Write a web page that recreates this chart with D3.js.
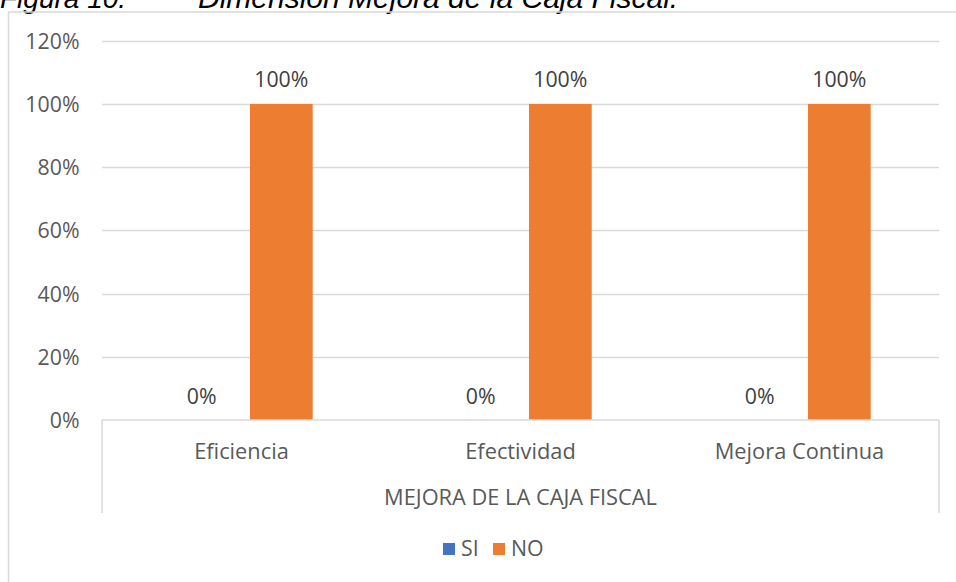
<!DOCTYPE html>
<html>
<head>
<meta charset="utf-8">
<script src="https://cdn.jsdelivr.net/npm/d3@7"></script>
<style>
  html, body { margin: 0; padding: 0; background: #fff; }
  svg { display: block; }
</style>
</head>
<body>
<svg id="chart" width="956" height="582"></svg>
<script>
const categories = ["Eficiencia", "Efectividad", "Mejora Continua"];
const seriesNames = ["SI", "NO"];
const siValues = [0, 0, 0];
const noValues = [1, 1, 1];
const yTicks = [0, 0.2, 0.4, 0.6, 0.8, 1.0, 1.2];
const axisTitle = "MEJORA DE LA CAJA FISCAL";
const titleNum = "Figura 10.";
const titleText = "Dimensión Mejora de la Caja Fiscal.";
const colors = { SI: "#4472C4", NO: "#ED7D31" };

(function () {
const svg = d3.select("#chart");
const FONT = "'Open Sans', 'Noto Sans', sans-serif";
const TXT = "#595959";
const GRID = "#d9d9d9";
const FS = 21.3;

const pLeft = 102, pRight = 939, pTop = 40.7, pBottom = 420, axisBoxBottom = 513;

// Title (cut off at top, as in the source)
svg.append("text").attr("x", 0).attr("y", 8)
  .attr("font-family", "'Liberation Sans', Arial, sans-serif")
  .attr("font-style", "italic").attr("font-size", 28).attr("fill", "#000")
  .text(titleNum);
svg.append("text").attr("x", 198).attr("y", 8)
  .attr("font-family", "'Liberation Sans', Arial, sans-serif")
  .attr("font-style", "italic").attr("font-size", 30).attr("fill", "#000")
  .text(titleText);

// Outer chart border
svg.append("rect").attr("x", 8.5).attr("y", 12).attr("width", 1000).attr("height", 700)
  .attr("fill", "none").attr("stroke", GRID).attr("stroke-width", 1.5);

const y = d3.scaleLinear().domain([0, 1.2]).range([pBottom, pTop]);
const x0 = d3.scaleBand().domain(categories).range([pLeft, pRight]).padding(0);
const x1 = d3.scaleBand().domain(seriesNames).range([0, x0.bandwidth()])
  .paddingInner(0.213).paddingOuter(0.857);

// Gridlines
svg.append("g").selectAll("line").data(yTicks.filter(d => d > 0)).join("line")
  .attr("x1", pLeft).attr("x2", pRight)
  .attr("y1", d => Math.round(y(d)) + 0.5).attr("y2", d => Math.round(y(d)) + 0.5)
  .attr("stroke", GRID).attr("stroke-width", 1.3);

// Y axis labels
const yAxis = d3.axisLeft(y).tickValues(yTicks).tickFormat(d3.format(".0%")).tickSize(0).tickPadding(0);
const gy = svg.append("g").attr("transform", `translate(79.5,0)`).call(yAxis);
gy.select(".domain").remove();
gy.selectAll("text").attr("font-family", FONT).attr("font-size", FS).attr("fill", TXT)
  .attr("dy", "0.35em");

// Bars
const data = categories.map((c, i) => ({ cat: c, SI: siValues[i], NO: noValues[i] }));
const groups = svg.append("g").selectAll("g").data(data).join("g")
  .attr("transform", d => `translate(${x0(d.cat)},0)`);
groups.selectAll("rect").data(d => seriesNames.map(s => ({ s, v: d[s] }))).join("rect")
  .attr("x", d => x1(d.s)).attr("width", x1.bandwidth())
  .attr("y", d => y(d.v)).attr("height", d => y(0) - y(d.v))
  .attr("fill", d => colors[d.s]);
groups.selectAll("text.lbl").data(d => seriesNames.map(s => ({ s, v: d[s] }))).join("text")
  .attr("class", "lbl")
  .attr("x", d => x1(d.s) + x1.bandwidth() / 2).attr("y", d => y(d.v) - 16.5)
  .attr("text-anchor", "middle").attr("font-family", FONT).attr("font-size", FS).attr("fill", "#404040")
  .text(d => d3.format(".0%")(d.v));

// Category axis box
const ax = svg.append("g").attr("stroke", GRID).attr("stroke-width", 1.5);
ax.append("line").attr("x1", pLeft).attr("x2", pRight).attr("y1", pBottom).attr("y2", pBottom);
ax.append("line").attr("x1", pLeft).attr("x2", pLeft).attr("y1", pBottom).attr("y2", axisBoxBottom);
ax.append("line").attr("x1", pRight).attr("x2", pRight).attr("y1", pBottom).attr("y2", axisBoxBottom);

const xAxis = d3.axisBottom(x0).tickSize(0).tickPadding(0);
const gx = svg.append("g").attr("transform", `translate(0,459)`).call(xAxis);
gx.select(".domain").remove();
gx.selectAll("text").attr("font-family", FONT).attr("font-size", 21.8).attr("fill", TXT).attr("dy", 0);

svg.append("text").attr("x", (pLeft + pRight) / 2).attr("y", 505).attr("text-anchor", "middle")
  .attr("font-family", FONT).attr("font-size", 21.8).attr("fill", TXT).text(axisTitle);

// Legend
const legendX = [443, 493];
const lg = svg.append("g").selectAll("g").data(seriesNames).join("g")
  .attr("transform", (d, i) => `translate(${legendX[i]},543)`);
lg.append("rect").attr("width", 12).attr("height", 12).attr("fill", d => colors[d]);
lg.append("text").attr("x", 18).attr("y", 13).attr("font-family", FONT).attr("font-size", FS)
  .attr("fill", TXT).text(d => d);
})();
</script>
</body>
</html>
